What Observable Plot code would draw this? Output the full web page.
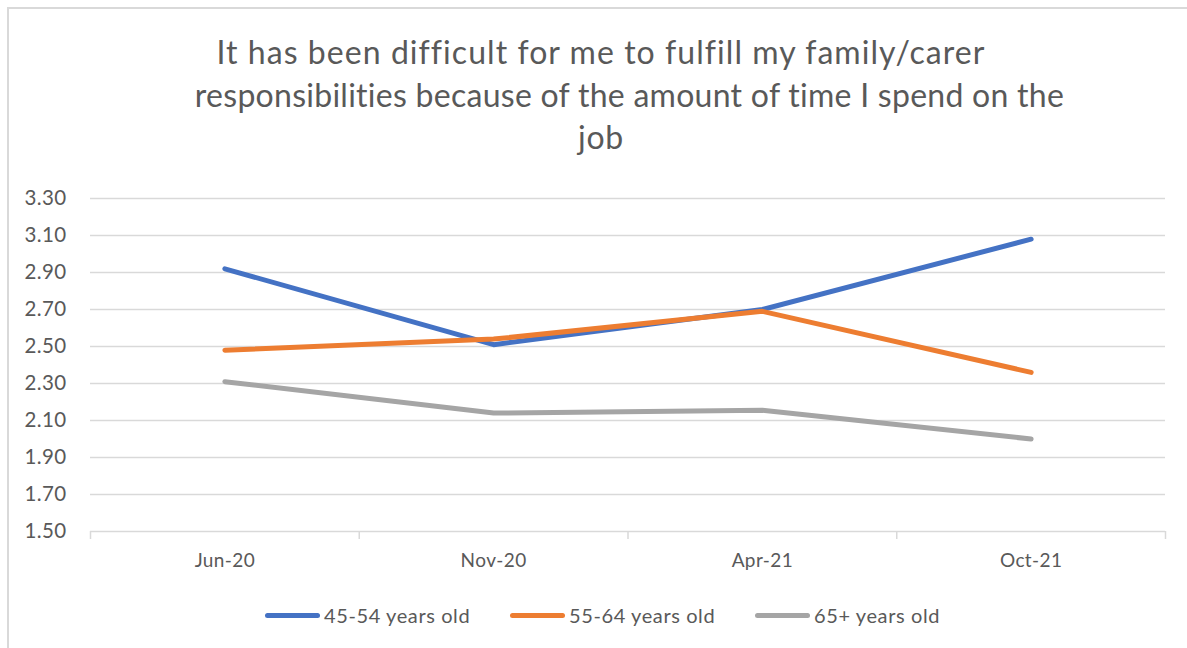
<!DOCTYPE html>
<html>
<head>
<meta charset="utf-8">
<script src="https://cdn.jsdelivr.net/npm/d3@7"></script>
<script src="https://cdn.jsdelivr.net/npm/@observablehq/plot@0.6"></script>
<style>
  html, body { margin: 0; padding: 0; background: #fff; overflow: hidden; }
  body { width: 1187px; height: 648px; position: relative; font-family: Lato, "Open Sans", sans-serif; }
  #frame { position: absolute; left: 7px; top: 7px; width: 1300px; height: 800px; border-left: 2px solid #d9d9d9; border-top: 2px solid #d9d9d9; box-sizing: border-box; }
  #title { position: absolute; left: 0; top: 31px; width: 1259px; text-align: center; font-size: 32px; line-height: 42.5px; color: #595959; }
  #title div { white-space: nowrap; }
  #chart { position: absolute; left: 0; top: 180px; }
  #legend { position: absolute; left: 0; top: 602px; width: 1187px; height: 26px; }
  .item { position: absolute; top: 0; display: flex; align-items: center; font-size: 20px; letter-spacing: 0.6px; color: #595959; height: 26px; white-space: nowrap; }
  .sw { width: 55px; height: 5px; border-radius: 3px; margin-right: 4px; }
</style>
</head>
<body>
<div id="frame"></div>
<div id="title">
  <div style="letter-spacing:1.05px;padding-right:57px">It has been difficult for me to fulfill my family/carer</div>
  <div style="letter-spacing:0.27px">responsibilities because of the amount of time I spend on the</div>
  <div style="letter-spacing:0.8px;padding-right:57px">job</div>
</div>
<div id="chart"></div>
<div id="legend"></div>
<script>
const categories = ["Jun-20", "Nov-20", "Apr-21", "Oct-21"];
const seriesNames = ["45-54 years old", "55-64 years old", "65+ years old"];
const colors = ["#4472C4", "#ED7D31", "#A5A5A5"];
const values4554 = [2.92, 2.51, 2.70, 3.08];
const values5564 = [2.48, 2.54, 2.69, 2.36];
const values65 = [2.31, 2.14, 2.155, 2.00];
const yTicks = [1.5, 1.7, 1.9, 2.1, 2.3, 2.5, 2.7, 2.9, 3.1, 3.3];

const seriesValues = [values4554, values5564, values65];
const data = [];
seriesValues.forEach((vals, s) => vals.forEach((v, i) => data.push({series: seriesNames[s], i, value: v})));

const boundaries = d3.range(categories.length + 1).map(k => k - 0.5);

const plot = Plot.plot({
  width: 1187,
  height: 410,
  marginLeft: 90,
  marginRight: 22,
  marginTop: 18,
  marginBottom: 59,
  style: {fontFamily: "Lato, 'Open Sans', sans-serif", color: "#595959", background: "transparent", letterSpacing: "0.4px"},
  x: {type: "linear", domain: [-0.5, categories.length - 0.5], label: null},
  y: {domain: [1.5, 3.3], label: null},
  color: {domain: seriesNames, range: colors},
  marks: [
    Plot.ruleY(yTicks.slice(1), {stroke: "#d9d9d9", strokeWidth: 1.5}),
    Plot.ruleY([1.5], {stroke: "#d9d9d9", strokeWidth: 1.5}),
    Plot.axisX({ticks: boundaries, tickSize: 8, tickFormat: () => "", stroke: "#d9d9d9", strokeWidth: 1.5, label: null}),
    Plot.axisX({ticks: d3.range(categories.length), tickSize: 0, tickPadding: 22, tickFormat: i => categories[i], fontSize: 19, fill: "#595959", label: null}),
    Plot.axisY({ticks: yTicks, tickSize: 0, tickPadding: 24, tickFormat: d3.format(".2f"), fontSize: 20.5, fill: "#595959", label: null}),
    Plot.line(data, {x: "i", y: "value", z: "series", stroke: "series", strokeWidth: 5, strokeLinecap: "round", strokeLinejoin: "round"})
  ]
});
document.getElementById("chart").appendChild(plot);

const legend = document.getElementById("legend");
const lefts = [265, 510, 755];
seriesNames.forEach((name, k) => {
  const item = document.createElement("div");
  item.className = "item";
  item.style.left = lefts[k] + "px";
  const sw = document.createElement("div");
  sw.className = "sw";
  sw.style.background = colors[k];
  item.appendChild(sw);
  const t = document.createElement("span");
  t.textContent = name;
  item.appendChild(t);
  legend.appendChild(item);
});
</script>
</body>
</html>
